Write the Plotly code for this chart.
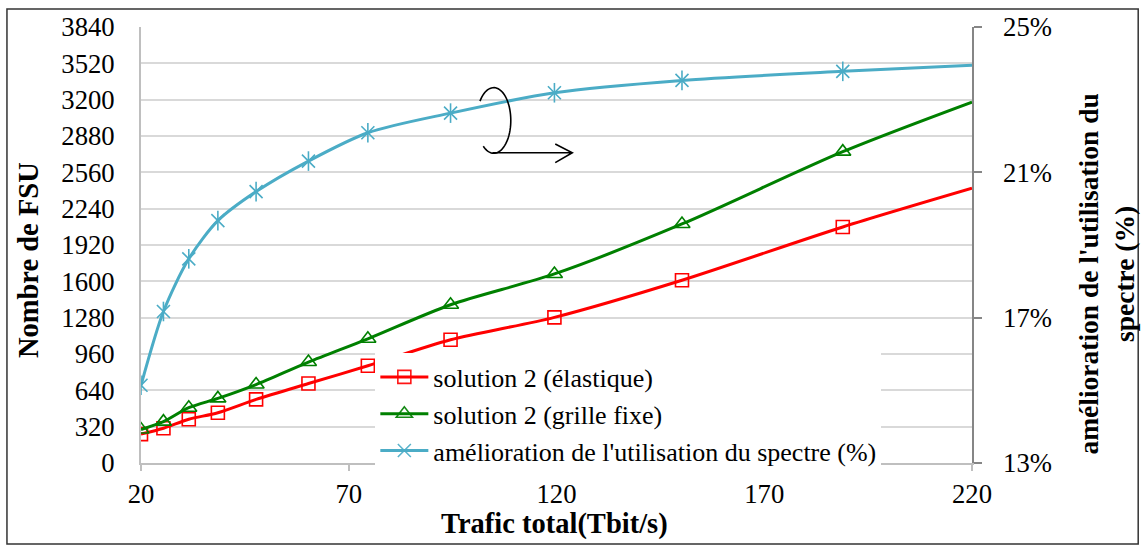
import numpy as np
import plotly.graph_objects as go

# ---- data ----
trafic = [20, 25.4, 31.5, 38.5, 47.7, 60.3, 74.6, 94.5, 119.5, 150.2, 188.9, 220]
fsu_elastique = [254, 306, 385, 443, 560, 700, 856, 1085, 1283, 1610, 2079, 2420]
fsu_grille = [295, 364, 487, 569, 691, 889, 1094, 1394, 1665, 2105, 2742, 3179]
amelioration = [15.14, 17.17, 18.62, 19.67, 20.47, 21.31, 22.09, 22.63, 23.19, 23.53, 23.78, 23.95]

x_ticks = [20, 70, 120, 170, 220]
y_ticks = [0, 320, 640, 960, 1280, 1600, 1920, 2240, 2560, 2880, 3200, 3520, 3840]
y2_ticks = [13, 17, 21, 25]

names = ["solution 2 (élastique)", "solution 2 (grille fixe)",
         "amélioration de l'utilisation du spectre (%)"]

RED = "#FF0000"
GREEN = "#008000"
BLUE = "#4BACC6"
FONT = "Liberation Serif"

# markers hidden on the last point (line reaches the axis end without marker)
mop = [1] * (len(trafic) - 1) + [0]

fig = go.Figure()
fig.add_trace(go.Scatter(
    x=trafic, y=fsu_elastique, name=names[0], mode="lines+markers",
    line=dict(color=RED, width=3, shape="spline", smoothing=0.8),
    marker=dict(symbol="square-open", size=13, color=RED, opacity=mop,
                line=dict(width=1.6, color=RED)),
))
fig.add_trace(go.Scatter(
    x=trafic, y=fsu_grille, name=names[1], mode="lines+markers",
    line=dict(color=GREEN, width=3, shape="spline", smoothing=0.8),
    marker=dict(symbol="triangle-up-open", size=14, color=GREEN, opacity=mop,
                line=dict(width=1.6, color=GREEN)),
))
fig.add_trace(go.Scatter(
    x=trafic, y=amelioration, name=names[2], mode="lines+markers", yaxis="y2",
    line=dict(color=BLUE, width=3, shape="spline", smoothing=0.8),
    marker=dict(symbol="x-thin-open", size=13, color=BLUE, opacity=mop,
                line=dict(width=1.6, color=BLUE)),
))
fig.add_trace(go.Scatter(
    x=trafic, y=amelioration, mode="markers", yaxis="y2", showlegend=False,
    marker=dict(symbol="line-ns-open", size=14, color=BLUE, opacity=mop,
                line=dict(width=1.6, color=BLUE)),
    hoverinfo="skip",
))

# ---- curved arrow decoration (ellipse arc + arrow), in data coordinates ----
cx, cy, rx, ry = 104.9, 3017, 4.1, 289
t = np.radians(np.linspace(216, 488, 60))
ax_ = cx + rx * np.cos(t)
ay_ = cy - ry * np.sin(t)
arc_path = "M " + " L ".join(f"{a:.3f},{b:.2f}" for a, b in zip(ax_, ay_))
arrow_path = ("M 104.6,2733 L 123.8,2733 "
              "M 119.7,2809 L 123.8,2733 L 119.7,2645")

shapes = [
    dict(type="path", path=arc_path, xref="x", yref="y",
         line=dict(color="black", width=1.6)),
    dict(type="path", path=arrow_path, xref="x", yref="y",
         line=dict(color="black", width=1.6)),
    # outer frame of the chart
    dict(type="rect", xref="paper", yref="paper", x0=-0.1613, x1=1.2, y0=-0.186, y1=1.041,
         line=dict(color="#333333", width=1.5), layer="below"),
]

annotations = [
    dict(text="<b>Nombre de FSU</b>", xref="paper", yref="paper", x=-0.1347, y=0.4656,
         textangle=-90, showarrow=False, xanchor="center", yanchor="middle",
         font=dict(family=FONT, size=28.5, color="black")),
    dict(text="<b>amélioration de l'utilisation du<br>spectre (%)</b>", xref="paper", yref="paper",
         x=1.1621, y=0.4337, textangle=-90, showarrow=False, xanchor="center", yanchor="middle",
         font=dict(family=FONT, size=27.5, color="black")),
    dict(text="<b>Trafic total(Tbit/s)</b>", xref="paper", yref="paper", x=0.4975, y=-0.140,
         showarrow=False, xanchor="center", yanchor="middle",
         font=dict(family=FONT, size=28.5, color="black")),
]

fig.update_layout(
    width=1142, height=546,
    margin=dict(l=141, r=170, t=24, b=83, pad=0),
    paper_bgcolor="white", plot_bgcolor="white",
    font=dict(family=FONT, size=26.7, color="black"),
    showlegend=True,
    legend=dict(x=0.282, y=0.1124, xanchor="left", yanchor="middle",
                bgcolor="white", borderwidth=0, itemwidth=48,
                font=dict(family=FONT, size=26, color="black"),
                tracegroupgap=0),
    xaxis=dict(range=[20, 220], tickvals=x_ticks, ticktext=[str(v) for v in x_ticks],
               showgrid=False, zeroline=False, showline=True, linecolor="#BFBFBF", linewidth=2,
               ticks="outside", ticklen=6, tickcolor="#BFBFBF", tickwidth=1.5,
               ticklabelstandoff=0, tickfont=dict(family=FONT, size=26.7)),
    yaxis=dict(range=[0, 3840], tickvals=y_ticks, ticktext=[str(v) for v in y_ticks],
               showgrid=True, gridcolor="#D9D9D9", gridwidth=1.5, zeroline=False,
               showline=True, linecolor="#BFBFBF", linewidth=2, ticks="",
               ticklabelstandoff=19, tickfont=dict(family=FONT, size=26.7)),
    yaxis2=dict(range=[13, 25], tickvals=y2_ticks, ticktext=[f"{v}%" for v in y2_ticks],
                overlaying="y", side="right", showgrid=False, zeroline=False,
                showline=True, linecolor="#868686", linewidth=1.5,
                ticks="outside", ticklen=8, tickcolor="#868686", tickwidth=1.5,
                ticklabelstandoff=16, tickfont=dict(family=FONT, size=26.7)),
    shapes=shapes,
    annotations=annotations,
)

fig.write_html("out.html", config={"displayModeBar": False},
               post_script="document.body.style.margin='0px';")
